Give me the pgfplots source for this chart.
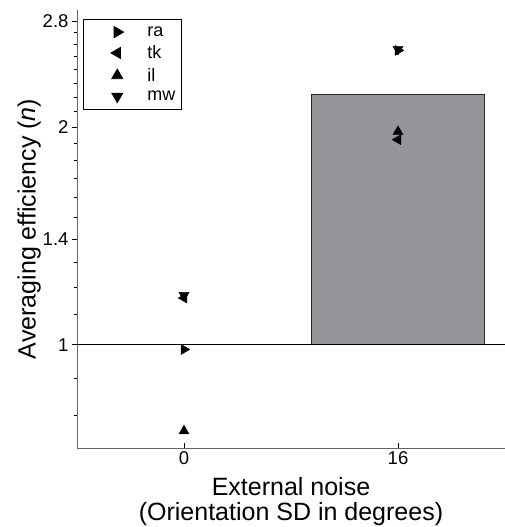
\documentclass[border=0pt]{standalone}
\usepackage{fontspec}
\setmainfont{Liberation Sans}
\usepackage{pgfplots}
\pgfplotsset{compat=1.18}
\definecolor{barfill}{RGB}{147,149,152}
\begin{document}
\begin{tikzpicture}
\begin{axis}[
    scale only axis,
    width=428pt, height=438pt,
    ymode=log,
    ymin=0.72, ymax=2.9,
    xmin=-8, xmax=24,
    axis x line*=bottom, axis y line*=left,
    axis line style={-, black!60},
    xtick={0,16}, xticklabels={0,16},
    ytick={1,1.4,2,2.8}, yticklabels={1,1.4,2,2.8},
    minor ytick={0.8,0.9,1.1,1.2,1.3,1.5,1.6,1.7,1.8,1.9,2.1,2.2,2.3,2.4,2.5,2.6,2.7},
    xtick align=inside, ytick align=outside,
    major tick length=5pt, minor tick length=3pt,
    tick style={black, line width=0.5pt},
    tick label style={font=\fontsize{18.5}{20}\selectfont},
    label style={font=\fontsize{25}{25}\selectfont},
    xlabel={External noise\\(Orientation SD in degrees)},
    xlabel style={align=center, yshift=-6pt},
    ylabel={Averaging efficiency (\textit{n})},
    ylabel style={yshift=-5pt},
    legend cell align=left,
    legend image code/.code={\path[draw=none, fill=none] (-30pt,-4pt) rectangle (28pt,4pt); \draw[#1, mark size=6.5pt] plot coordinates {(0pt,0pt)};},
    legend style={at={(0.014,0.979)}, anchor=north west, draw=black, line width=0.6pt,
        font=\fontsize{18}{20}\selectfont, row sep=4pt, inner xsep=4pt, inner ysep=5pt},
]
\addplot[ybar, bar width=12.9, fill=barfill, draw=black!85, line width=0.8pt, forget plot]
    coordinates {(16,2.22)};
\addplot[ybar, bar width=12.9, fill=barfill, draw=black!90, line width=1.4pt, forget plot]
    coordinates {(0,1)};
\addplot[black, line width=0.5pt, forget plot] coordinates {(-8,1) (24,1)};

\addplot[only marks, black, mark=triangle*, mark size=5.8pt, mark options={rotate=-90, fill=black}]
    coordinates {(0,0.985) (16,2.55)};
\addlegendentry{ra}
\addplot[only marks, black, mark=triangle*, mark size=5.8pt, mark options={rotate=90, fill=black}]
    coordinates {(0,1.16) (16,1.92)};
\addlegendentry{tk}
\addplot[only marks, black, mark=triangle*, mark size=5.8pt, mark options={fill=black}]
    coordinates {(0,0.76) (16,1.97)};
\addlegendentry{il}
\addplot[only marks, black, mark=triangle*, mark size=5.8pt, mark options={rotate=180, fill=black}]
    coordinates {(0,1.17) (16,2.56)};
\addlegendentry{mw}

\coordinate (BL) at (rel axis cs:0,0);
\coordinate (TR) at (rel axis cs:1,1);
\end{axis}
\pgfresetboundingbox
\path ([shift={(-77pt,-79pt)}]BL) rectangle ([shift={(0pt,10pt)}]TR);
\end{tikzpicture}
\end{document}
